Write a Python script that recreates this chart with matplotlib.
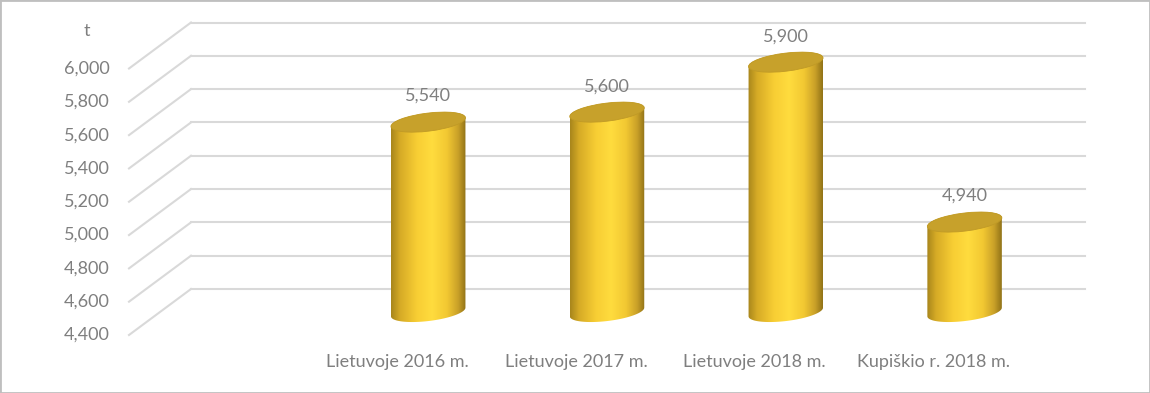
import numpy as np
import matplotlib
matplotlib.use('Agg')
import matplotlib.pyplot as plt
from matplotlib.colors import LinearSegmentedColormap
from matplotlib.patches import Ellipse, PathPatch, Rectangle
from matplotlib.path import Path
from matplotlib.transforms import ScaledTranslation

# data (first slot is an empty category, as in the original chart)
categories = ["", "Lietuvoje 2016 m.", "Lietuvoje 2017 m.", "Lietuvoje 2018 m.", "Kupiškio r. 2018 m."]
values = [np.nan, 5540, 5600, 5900, 4940]
yticks = np.arange(4400, 6001, 200)
unit = "t"

DPI = 100
txt_c = '#7f7f7f'
grid_c = '#d9d9d9'
depth = (31, 23)          # px, offset of back wall / front edge from the bar plane
bar_w, ell_h, tilt = 75, 18, 7   # px, px, deg
PT = 72 / DPI             # px -> points

plt.rcParams['font.family'] = ['Lato', 'DejaVu Sans']
plt.rcParams['font.size'] = 13

side_cmap = LinearSegmentedColormap.from_list('gold', [
    (0.0, '#a8861c'), (0.12, '#d6ab26'), (0.35, '#f8ce34'), (0.55, '#ffdc3e'),
    (0.75, '#f2c832'), (0.9, '#c9a028'), (1.0, '#927418')])

# bar plane: value axis runs 4400 -> 6000 over 266.5 px, with some room below
# the base so the rounded bottoms of the cylinders are not clipped
pad = 100
px_per_val = 266.5 / (yticks[-1] - yticks[0])
fig = plt.figure(figsize=(11.5, 3.93), dpi=DPI)
ax = fig.add_axes([160 / 1150, (81 - pad * px_per_val) / 393,
                   894 / 1150, (266.5 + pad * px_per_val) / 393])
ax.set_xlim(-0.5, len(categories) - 0.5)
ax.set_ylim(yticks[0] - pad, yticks[-1])
ax.set_autoscale_on(False)
ax.axis('off')


def shift(dx, dy):
    return ScaledTranslation(dx / DPI, dy / DPI, fig.dpi_scale_trans)


def at(x, y):
    # inch-based coordinates anchored at a data point
    return fig.dpi_scale_trans + ScaledTranslation(x, y, ax.transData)


back = ax.transData + shift(*depth)
front = ax.transData + shift(-depth[0], -depth[1])
x0, x1 = ax.get_xlim()
base = yticks[0]

# wall gridlines, side diagonals, tick labels
for v in yticks:
    ax.plot([x0, x1], [v, v], color=grid_c, lw=1.5, transform=back, clip_on=False, zorder=0)
    ax.plot([-depth[0] / DPI, depth[0] / DPI], [-depth[1] / DPI, depth[1] / DPI],
            color=grid_c, lw=1.5, transform=at(x0, v), clip_on=False, zorder=0)
    ax.annotate(f'{v:,}', (x0, v), xycoords=front, xytext=(-19 * PT, 0),
                textcoords='offset points', ha='right', va='center', color=txt_c)

ax.annotate(unit, (x0, yticks[-1]), xycoords=front, xytext=(-42 * PT, 38 * PT),
            textcoords='offset points', ha='center', va='center', color=txt_c)

# cylinders
a, b, th = bar_w / 2 / DPI, ell_h / 2 / DPI, np.radians(tilt)
t0 = np.arctan(-(b / a) * np.tan(th))


def ell_pts(t):
    return (a * np.cos(t) * np.cos(th) - b * np.sin(t) * np.sin(th),
            a * np.cos(t) * np.sin(th) + b * np.sin(t) * np.cos(th))


px_per_cat = ax.get_window_extent().width / len(categories)
hw = (bar_w / 2) / px_per_cat

for i, v in enumerate(values):
    if np.isnan(v):
        continue
    h = (ax.transData.transform((i, v))[1] - ax.transData.transform((i, base))[1]) / DPI
    lx, ly = ell_pts(np.linspace(t0 + np.pi, t0 + 2 * np.pi, 60))
    ux, uy = ell_pts(np.linspace(t0, t0 + np.pi, 60))
    verts = np.vstack([np.column_stack([lx, ly]), np.column_stack([ux, uy + h])])
    body = PathPatch(Path(np.vstack([verts, verts[:1]]), closed=True),
                     transform=at(i, base), facecolor='none', edgecolor='none')
    ax.add_patch(body)
    im = ax.imshow(np.linspace(0, 1, 200)[None, :], cmap=side_cmap, aspect='auto',
                   extent=(i - hw, i + hw, base - pad, v + pad), zorder=2)
    im.set_clip_path(body)
    ax.add_patch(Ellipse((0, 0), 2 * a, 2 * b, angle=tilt, transform=at(i, v),
                         facecolor='#c7a12b', edgecolor='#c09a26', lw=0.6, zorder=3))
    ax.annotate(f'{v:,.0f}', (i, v), xytext=(0, 26 * PT), textcoords='offset points',
                ha='center', va='center', color=txt_c)

# category labels along the front edge
for i, c in enumerate(categories):
    if c:
        ax.annotate(c, (i, base), xycoords=front, xytext=(0, -27 * PT),
                    textcoords='offset points', ha='center', va='center', color=txt_c)

fig.add_artist(Rectangle((0, 0), 1, 1, transform=fig.transFigure, fill=False,
                         edgecolor='#bfbfbf', lw=2))

fig.savefig('out.png', dpi=DPI)
